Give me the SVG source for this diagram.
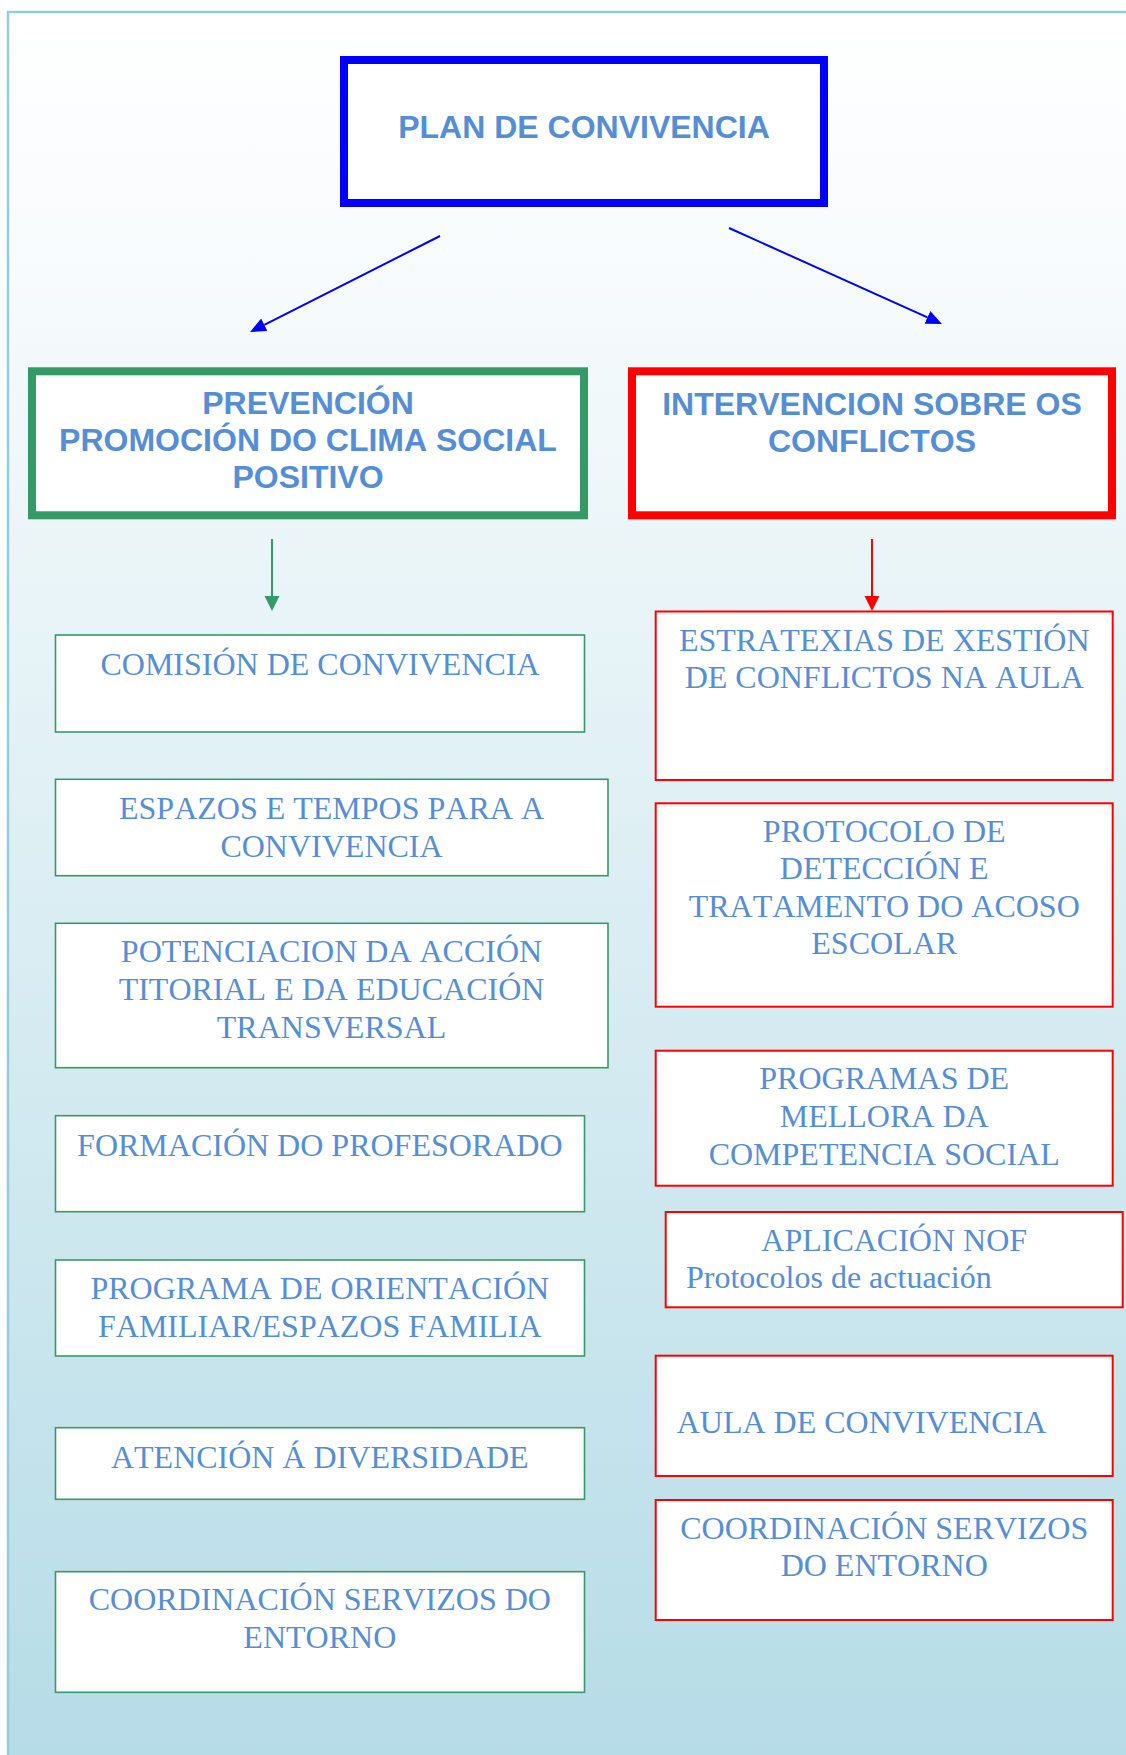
<svg xmlns="http://www.w3.org/2000/svg" width="1126" height="1755" viewBox="0 0 1126 1755">
  <defs>
    <linearGradient id="bg" x1="0" y1="12" x2="0" y2="1755" gradientUnits="userSpaceOnUse">
      <stop offset="0" stop-color="#FFFFFF"/>
      <stop offset="0.12" stop-color="#F9FCFD"/>
      <stop offset="1" stop-color="#B6DCE7"/>
    </linearGradient>
    <marker id="ahBlue" markerUnits="userSpaceOnUse" markerWidth="18" markerHeight="16" refX="0" refY="7" orient="auto">
      <path d="M0,0 L16,7 L0,14 z" fill="#0000FF"/>
    </marker>
    <marker id="ahGreen" markerUnits="userSpaceOnUse" markerWidth="16" markerHeight="16" refX="0" refY="7.5" orient="auto">
      <path d="M0,0 L15,7.5 L0,15 z" fill="#349A66"/>
    </marker>
    <marker id="ahRed" markerUnits="userSpaceOnUse" markerWidth="16" markerHeight="16" refX="0" refY="7.5" orient="auto">
      <path d="M0,0 L15,7.5 L0,15 z" fill="#FF0000"/>
    </marker>
    <style>
      .box { fill: #FFFFFF; }
      .main-blue { stroke: #0000FF; stroke-width: 8; }
      .main-green { stroke: #349A66; stroke-width: 8; }
      .main-red { stroke: #FF0000; stroke-width: 8; }
      .sub-green { stroke: #349A66; stroke-width: 1.6; }
      .sub-red { stroke: #FF0000; stroke-width: 2; }
      .head { font-family: "Liberation Sans", Arial, sans-serif; font-weight: bold; font-size: 32px; fill: #558ED5; text-anchor: middle; font-kerning: none; }
      .item { font-family: "Liberation Serif", "Times New Roman", serif; font-size: 32px; fill: #558ED5; text-anchor: middle; font-kerning: none; }
      .left { text-anchor: start; }
      .conn { fill: none; stroke-width: 2; }
    </style>
  </defs>

  <rect x="0" y="0" width="1126" height="1755" fill="#FFFFFF"/>
  <rect x="8" y="12" width="1200" height="1800" fill="url(#bg)" stroke="#92CDDC" stroke-width="2.5"/>

  <g id="connectors">
    <line class="conn" x1="440" y1="236" x2="264.3" y2="324.8" stroke="#0000FF" marker-end="url(#ahBlue)"/>
    <line class="conn" x1="729" y1="228" x2="927.4" y2="317.4" stroke="#0000FF" marker-end="url(#ahBlue)"/>
    <line class="conn" x1="272" y1="539" x2="272" y2="596" stroke="#349A66" marker-end="url(#ahGreen)"/>
    <line class="conn" x1="872" y1="539" x2="872" y2="596" stroke="#FF0000" marker-end="url(#ahRed)"/>
  </g>

  <g id="plan">
    <rect class="box main-blue" x="344" y="60" width="480" height="143"/>
    <text class="head" x="584" y="138">PLAN DE CONVIVENCIA</text>
  </g>

  <g id="prevencion">
    <rect class="box main-green" x="32" y="371.3" width="552" height="144"/>
    <text class="head" x="308" y="414">PREVENCIÓN</text>
    <text class="head" x="308" y="451">PROMOCIÓN DO CLIMA SOCIAL</text>
    <text class="head" x="308" y="488">POSITIVO</text>
  </g>

  <g id="intervencion">
    <rect class="box main-red" x="632" y="371.3" width="480" height="144"/>
    <text class="head" x="872" y="415">INTERVENCION SOBRE OS</text>
    <text class="head" x="872" y="452">CONFLICTOS</text>
  </g>

  <g id="comision">
    <rect class="box sub-green" x="55.5" y="635" width="529" height="97"/>
    <text class="item" x="320" y="675">COMISIÓN DE CONVIVENCIA</text>
  </g>

  <g id="espazos">
    <rect class="box sub-green" x="55.5" y="779.3" width="552.5" height="96.4"/>
    <text class="item" x="331.5" y="819.3">ESPAZOS E TEMPOS PARA A</text>
    <text class="item" x="331.5" y="856.7">CONVIVENCIA</text>
  </g>

  <g id="potenciacion">
    <rect class="box sub-green" x="55.5" y="923.3" width="552.5" height="144.4"/>
    <text class="item" x="331.5" y="962.3">POTENCIACION DA ACCIÓN</text>
    <text class="item" x="331.5" y="1000">TITORIAL E DA EDUCACIÓN</text>
    <text class="item" x="331.5" y="1037.7">TRANSVERSAL</text>
  </g>

  <g id="formacion">
    <rect class="box sub-green" x="55.5" y="1115.7" width="529" height="96"/>
    <text class="item" x="319.8" y="1155.7">FORMACIÓN DO PROFESORADO</text>
  </g>

  <g id="programa-orientacion">
    <rect class="box sub-green" x="55.5" y="1260" width="529" height="96"/>
    <text class="item" x="319.8" y="1299">PROGRAMA DE ORIENTACIÓN</text>
    <text class="item" x="319.8" y="1336.7">FAMILIAR/ESPAZOS FAMILIA</text>
  </g>

  <g id="atencion">
    <rect class="box sub-green" x="55.5" y="1427.7" width="529" height="71.6"/>
    <text class="item" x="319.8" y="1467.7">ATENCIÓN Á DIVERSIDADE</text>
  </g>

  <g id="coordinacion-left">
    <rect class="box sub-green" x="55.5" y="1571.7" width="529" height="120.6"/>
    <text class="item" x="319.8" y="1610">COORDINACIÓN SERVIZOS DO</text>
    <text class="item" x="319.8" y="1647.7">ENTORNO</text>
  </g>

  <g id="estratexias">
    <rect class="box sub-red" x="655.7" y="611.5" width="457" height="168.5"/>
    <text class="item" x="884.2" y="650.7">ESTRATEXIAS DE XESTIÓN</text>
    <text class="item" x="884.2" y="688.3">DE CONFLICTOS NA AULA</text>
  </g>

  <g id="protocolo">
    <rect class="box sub-red" x="655.7" y="803.3" width="457" height="203.4"/>
    <text class="item" x="884.2" y="842.3">PROTOCOLO DE</text>
    <text class="item" x="884.2" y="879.3">DETECCIÓN E</text>
    <text class="item" x="884.2" y="916.7">TRATAMENTO DO ACOSO</text>
    <text class="item" x="884.2" y="954.3">ESCOLAR</text>
  </g>

  <g id="programas-mellora">
    <rect class="box sub-red" x="655.7" y="1050.7" width="457" height="135"/>
    <text class="item" x="884.2" y="1089.3">PROGRAMAS DE</text>
    <text class="item" x="884.2" y="1126.7">MELLORA DA</text>
    <text class="item" x="884.2" y="1165">COMPETENCIA SOCIAL</text>
  </g>

  <g id="aplicacion-nof">
    <rect class="box sub-red" x="665.7" y="1212" width="457" height="95.3"/>
    <text class="item" x="894.2" y="1250.7">APLICACIÓN NOF</text>
    <text class="item left" x="686" y="1287.7">Protocolos de actuación</text>
  </g>

  <g id="aula">
    <rect class="box sub-red" x="655.7" y="1355.7" width="457" height="120.3"/>
    <text class="item left" x="676.7" y="1432.7">AULA DE CONVIVENCIA</text>
  </g>

  <g id="coordinacion-right">
    <rect class="box sub-red" x="655.7" y="1500" width="457" height="120"/>
    <text class="item" x="884.2" y="1539">COORDINACIÓN SERVIZOS</text>
    <text class="item" x="884.2" y="1576">DO ENTORNO</text>
  </g>
</svg>
